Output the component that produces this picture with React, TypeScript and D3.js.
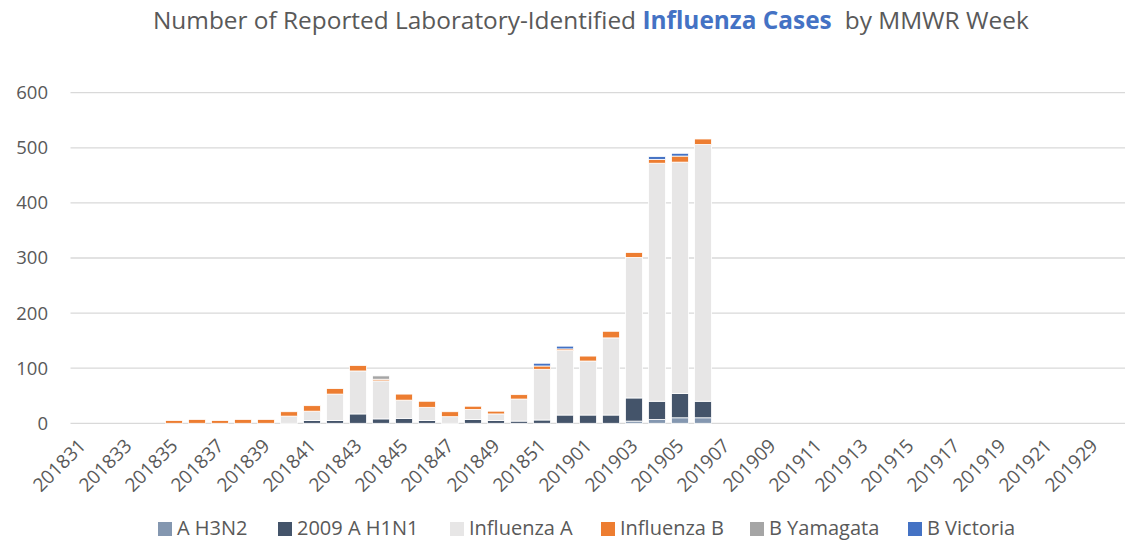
import React from "react";
import * as d3 from "d3";

const weeks: string[] = [
  "201831","201832","201833","201834","201835","201836","201837","201838","201839","201840",
  "201841","201842","201843","201844","201845","201846","201847","201848","201849","201850",
  "201851","201852","201901","201902","201903","201904","201905","201906","201907","201908",
  "201909","201910","201911","201912","201913","201914","201915","201916","201917","201918",
  "201919","201920","201921","201922","201929","201930",
];

// values per week (same order as weeks)
const aH3N2: number[] = [0,0,0,0,0,0,0,0,0,0, 0,0,0,0,0,0,0,0,0,0, 0,0,0,0,4,7,10,10,0,0, 0,0,0,0,0,0,0,0,0,0, 0,0,0,0,0,0];
const h1n1_2009: number[] = [0,0,0,0,0,0,0,0,0,0, 5,5,17,8,9,5,0,7,5,4, 6,15,15,15,42,33,44,30,0,0, 0,0,0,0,0,0,0,0,0,0, 0,0,0,0,0,0];
const influenzaA: number[] = [0,0,0,0,0,0,0,0,0,13, 17,48,78,69,33,24,12,18,12,40, 92,117,98,140,255,432,420,466,0,0, 0,0,0,0,0,0,0,0,0,0, 0,0,0,0,0,0];
const influenzaB: number[] = [0,0,0,0,5,7,5,7,7,8, 10,10,10,3,11,11,9,6,5,8, 6,3,9,12,9,7,11,10,0,0, 0,0,0,0,0,0,0,0,0,0, 0,0,0,0,0,0];
const bYamagata: number[] = [0,0,0,0,0,0,0,0,0,0, 0,0,0,6,0,0,0,0,0,0, 0,0,0,0,0,0,0,0,0,0, 0,0,0,0,0,0,0,0,0,0, 0,0,0,0,0,0];
const bVictoria: number[] = [0,0,0,0,0,0,0,0,0,0, 0,0,0,0,0,0,0,0,0,0, 5,5,0,0,0,5,5,0,0,0, 0,0,0,0,0,0,0,0,0,0, 0,0,0,0,0,0];

const seriesNames: string[] = ["A H3N2", "2009 A H1N1", "Influenza A", "Influenza B", "B Yamagata", "B Victoria"];
const seriesColors: string[] = ["#8497B0", "#44546A", "#E7E6E6", "#ED7D31", "#A5A5A5", "#4472C4"];
const yTicks: number[] = [0, 100, 200, 300, 400, 500, 600];

const W = 1125;
const H = 541;
const FONT = "'Open Sans', 'Noto Sans', sans-serif";
const TEXT = "#595959";

export default function App() {
  const seriesValues = [aH3N2, h1n1_2009, influenzaA, influenzaB, bYamagata, bVictoria];
  const rows = weeks.map((w, i) => {
    const r: Record<string, any> = { week: w };
    seriesNames.forEach((s, k) => (r[s] = seriesValues[k][i]));
    return r;
  });
  const stacked = d3.stack<Record<string, any>>().keys(seriesNames)(rows);

  const x = d3.scaleBand<string>().domain(weeks).range([70.5, 70.5 + 23 * weeks.length]).paddingInner(0.26).paddingOuter(0.13);
  const y = d3.scaleLinear().domain([0, 600]).range([423.3, 92.7]);

  const legendX = [158, 278, 450, 601, 750, 908];

  return (
    <svg width={W} height={H} style={{ position: "absolute", left: 0, top: 0, background: "#fff" }} fontFamily={FONT}>
      <rect x={0} y={0} width={W} height={H} fill="#fff" />
      <text x={153} y={29} fontSize={24.4} fill={TEXT}>
        <tspan>Number of Reported Laboratory-Identified </tspan>
        <tspan fill="#4472C4" fontWeight="bold">Influenza Cases</tspan>
        <tspan dx={13}>by MMWR Week</tspan>
      </text>

      {yTicks.map((t) => (
        <g key={t}>
          <line x1={70.5} x2={W} y1={y(t)} y2={y(t)} stroke="#D9D9D9" strokeWidth={1.3} />
          <text x={48} y={y(t)} dy="0.35em" textAnchor="end" fontSize={18.5} fill={TEXT}>{t}</text>
        </g>
      ))}

      {stacked.map((layer, k) => (
        <g key={layer.key} fill={seriesColors[k]}>
          {layer.map((d, i) =>
            d[1] - d[0] > 0 ? (
              <rect
                key={i}
                x={x(weeks[i])!}
                y={y(d[1])}
                width={x.bandwidth()}
                height={y(d[0]) - y(d[1])}
                stroke="#fff"
                strokeWidth={0.8}
              />
            ) : null
          )}
        </g>
      ))}

      {weeks.map((w, i) =>
        i % 2 === 0 ? (
          <text
            key={w}
            transform={`translate(${x(w)! + x.bandwidth() / 2 + 5},${447}) rotate(-45)`}
            textAnchor="end"
            fontSize={19}
            fill={TEXT}
          >
            {w}
          </text>
        ) : null
      )}

      {seriesNames.map((s, k) => (
        <g key={s} transform={`translate(${legendX[k]},0)`}>
          <rect x={0} y={522} width={14} height={14} fill={seriesColors[k]} />
          <text x={19} y={535} fontSize={20} fill={TEXT}>{s}</text>
        </g>
      ))}
    </svg>
  );
}
